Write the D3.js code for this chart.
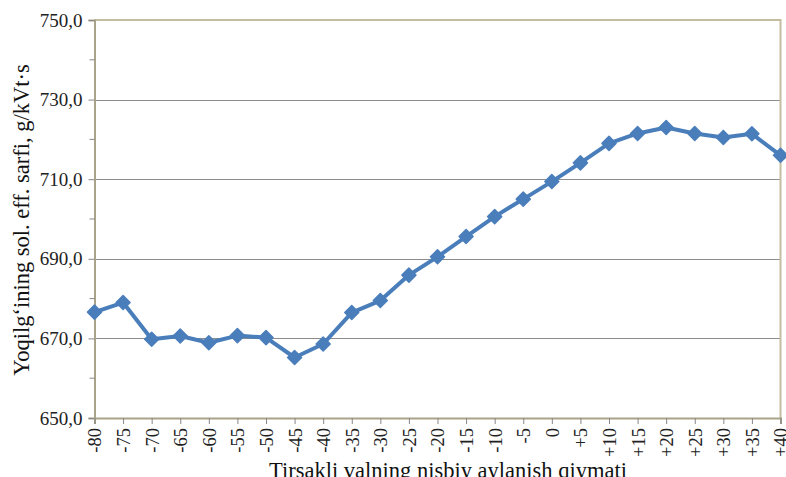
<!DOCTYPE html>
<html><head><meta charset="utf-8">
<script src="https://cdn.jsdelivr.net/npm/d3@7"></script>
<style>body{margin:0;background:#fff}svg{display:block}</style>
</head><body><svg id="c" width="786" height="477"></svg>
<script>
const categories = ["-80","-75","-70","-65","-60","-55","-50","-45","-40","-35","-30","-25","-20","-15","-10","-5","0","+5","+10","+15","+20","+25","+30","+35","+40"];
const values = [676.6,679.0,669.8,670.6,668.9,670.7,670.2,665.2,668.6,676.5,679.5,685.9,690.5,695.6,700.6,705.0,709.4,714.1,719.0,721.5,723.0,721.5,720.5,721.4,716.0];
const yTicks = [650,670,690,710,730,750];
const yMinorTicks = [660,680,700,720,740];
const yTitle = "Yoqilg‘ining sol. eff. sarfi, g/kVt·s";
const xTitle = "Tirsakli valning nisbiy aylanish qiymati";

const svg = d3.select("#c");
const m = {l:94.5, r:780.5, t:20, b:418};
const x = d3.scalePoint().domain(categories).range([m.l, m.r]);
const y = d3.scaleLinear().domain([650,750]).range([m.b, m.t]);
const font = "'Liberation Serif','Times New Roman',serif";

// gridlines
svg.append("g").selectAll("line").data(yTicks.slice(1,-1)).join("line")
  .attr("x1", m.l).attr("x2", m.r).attr("y1", d=>Math.round(y(d))+0.5).attr("y2", d=>Math.round(y(d))+0.5)
  .attr("stroke", "#8c8c8c").attr("stroke-width", 1);

// plot border (top/right)
svg.append("path").attr("d", `M${m.l},${m.t}H${m.r}V${m.b}`)
  .attr("fill","none").attr("stroke","#c4bd9f").attr("stroke-width",2);

// y axis
const yAxis = svg.append("g").attr("transform", `translate(${m.l},0)`)
  .call(d3.axisLeft(y).tickValues(yTicks).tickSize(6).tickPadding(6).tickFormat(d=>d.toFixed(1).replace(".",",")));
yAxis.select(".domain").attr("stroke","#a9a38a").attr("stroke-width",2);
yAxis.selectAll(".tick line").attr("stroke","#888");
yAxis.selectAll("text").attr("font-family",font).attr("font-size",19).attr("fill","#222");
svg.append("g").selectAll("line").data(yMinorTicks).join("line")
  .attr("x1", m.l-5).attr("x2", m.l).attr("y1", d=>y(d)).attr("y2", d=>y(d)).attr("stroke","#888");

// x axis
const xAxis = svg.append("g").attr("transform", `translate(0,${m.b})`)
  .call(d3.axisBottom(x).tickSize(6).tickPadding(4));
xAxis.select(".domain").attr("stroke","#a9a38a").attr("stroke-width",2);
xAxis.selectAll(".tick line").attr("stroke","#888");
xAxis.selectAll("text").attr("font-family",font).attr("font-size",18.5).attr("fill","#222")
  .attr("transform","rotate(-90)").attr("text-anchor","end").attr("dy","0.35em").attr("x",-10).attr("y",0);

// line
svg.append("path").datum(values)
  .attr("d", d3.line().x((d,i)=>x(categories[i])).y(d=>y(d)))
  .attr("fill","none").attr("stroke","#4a7ebb").attr("stroke-width",4).attr("stroke-linejoin","round");
svg.append("g").selectAll("path").data(values).join("path")
  .attr("transform",(d,i)=>`translate(${x(categories[i])},${y(d)})`)
  .attr("d", d3.symbol(d3.symbolDiamond2, 125)())
  .attr("fill","#4a7ebb").attr("stroke","#4a7ebb").attr("stroke-width",1.5).attr("stroke-linejoin","round");

// titles
svg.append("text").attr("transform", `translate(29,220) rotate(-90)`)
  .attr("text-anchor","middle").attr("font-family",font).attr("font-size",22.5).attr("fill","#111").text(yTitle);
svg.append("text").attr("x", 448).attr("y", 477.5)
  .attr("text-anchor","middle").attr("font-family",font).attr("font-size",22.5).attr("fill","#111").text(xTitle);
</script></body></html>
